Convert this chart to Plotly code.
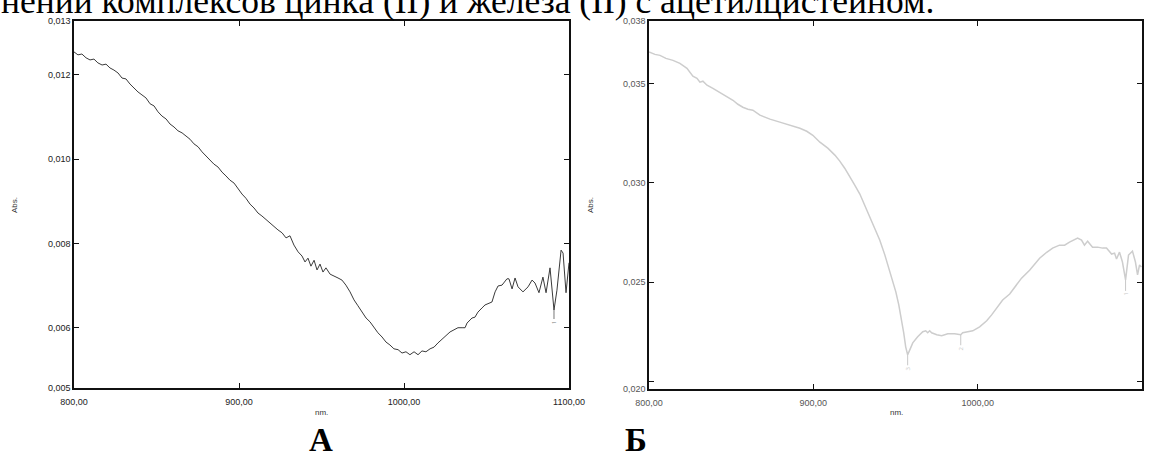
import plotly.graph_objects as go

# ---------------- data ----------------
wl_a = [800, 802.4, 804.8, 807.3, 809.7, 812.1, 814.5, 817, 819.4, 821.8, 824.2, 826.7, 829.1, 831.5,
        833.9, 836.4, 838.8, 841.2, 843.6, 846.1, 848.5, 850.9, 853.3, 855.8, 858.2, 860.6, 863, 865.5,
        867.9, 870.3, 872.7, 875.2, 877.6, 880, 882.4, 884.8, 887.3, 889.7, 892.1, 894.5, 897, 899.4,
        901.8, 904.2, 906.7, 909.1, 911.5, 913.9, 916.4, 918.8, 921.2, 923.6, 926.1, 928.5, 930.9, 933.3,
        935.8, 938.2, 940, 941.8, 943.6, 945.5, 947.3, 949.1, 950.9, 952.7, 955.2, 957.6, 960, 962.4,
        964.8, 967.3, 969.7, 972.1, 974.5, 977, 979.4, 981.8, 984.2, 986.7, 989.1, 991.5, 993.9, 996.4,
        998.8, 1001.2, 1003.6, 1006.1, 1008.5, 1010.9, 1013.3, 1015.8, 1018.2, 1020.6, 1023, 1025.5,
        1027.9, 1030.3, 1032.7, 1035.2, 1037, 1038.2, 1041.2, 1043, 1044.8, 1047.3, 1049.1, 1053.3,
        1055.2, 1057, 1059.4, 1062.4, 1063.6, 1065.5, 1067.3, 1069.1, 1072.1, 1075.2, 1077.6, 1079.4,
        1081.8, 1084.2, 1086.1, 1088.5, 1090.9, 1092.7, 1095.2, 1096.4, 1098.2, 1100]
abs_a = [0.01254, 0.01247, 0.01249, 0.01240, 0.01235, 0.01237, 0.01228, 0.01223, 0.01225, 0.01216,
         0.01211, 0.01204, 0.01192, 0.01190, 0.01178, 0.01168, 0.01159, 0.01152, 0.01145, 0.01131,
         0.01126, 0.01112, 0.01102, 0.01095, 0.01083, 0.01076, 0.01067, 0.01062, 0.01055, 0.01047,
         0.01036, 0.01029, 0.01017, 0.01007, 0.00998, 0.00988, 0.00981, 0.00969, 0.00960, 0.00950,
         0.00943, 0.00929, 0.00917, 0.00907, 0.00893, 0.00884, 0.00872, 0.00865, 0.00856, 0.00848,
         0.00841, 0.00832, 0.00825, 0.00813, 0.00818, 0.00796, 0.00780, 0.00770, 0.00756, 0.00765,
         0.00746, 0.00760, 0.00737, 0.00751, 0.00732, 0.00742, 0.00727, 0.00723, 0.00718, 0.00713,
         0.00701, 0.00685, 0.00666, 0.00652, 0.00637, 0.00623, 0.00614, 0.00600, 0.00588, 0.00578,
         0.00566, 0.00559, 0.00550, 0.00548, 0.00540, 0.00543, 0.00536, 0.00543, 0.00536, 0.00545,
         0.00543, 0.00550, 0.00554, 0.00564, 0.00573, 0.00580, 0.00590, 0.00595, 0.00600, 0.00600,
         0.00600, 0.00611, 0.00623, 0.00625, 0.00637, 0.00647, 0.00654, 0.00661, 0.00685, 0.00699,
         0.00701, 0.00716, 0.00716, 0.00692, 0.00718, 0.00697, 0.00685, 0.00697, 0.00713, 0.00706,
         0.00683, 0.00720, 0.00683, 0.00742, 0.00642, 0.00689, 0.00784, 0.00777, 0.00683, 0.00754]

wl_b = [800, 803.6, 806.7, 810.3, 814.6, 818.8, 823.1, 824.9, 826.7, 829.2, 831, 832.8, 835.3, 838.9,
        843.2, 847.4, 851.1, 854.1, 857.1, 860.2, 863.2, 867.5, 873.6, 879.6, 885.7, 891.8, 896, 899.7,
        904, 908.8, 913.1, 916.1, 919.1, 922.2, 925.2, 928.3, 931.3, 934.3, 937.4, 940.4, 943.5, 945.9,
        948.3, 950.2, 952, 953.8, 955, 956.2, 957.4, 958.7, 960.5, 963.5, 966.6, 968.4, 969.6, 970.8,
        972, 975.1, 978.1, 981.8, 986, 989.7, 990.9, 994, 997, 1001.2, 1005.5, 1008.5, 1011.6, 1015.2,
        1019.5, 1023.1, 1026.7, 1031.6, 1035.3, 1037.7, 1042, 1045.6, 1049.8, 1052.9, 1055.9, 1059,
        1060.8, 1063.2, 1065, 1066.9, 1069.9, 1073, 1076, 1078.4, 1081.5, 1083.3, 1084.5, 1086.3,
        1088.1, 1090, 1091.8, 1094.2, 1096, 1097.3, 1098.5, 1099.7]
abs_b = [0.03659, 0.03647, 0.03642, 0.03627, 0.03617, 0.03602, 0.03577, 0.03557, 0.03537, 0.03527,
         0.03507, 0.03512, 0.03492, 0.03476, 0.03456, 0.03436, 0.03416, 0.03396, 0.03381, 0.03371,
         0.03366, 0.03341, 0.03321, 0.03306, 0.03290, 0.03275, 0.03260, 0.03240, 0.03205, 0.03175,
         0.03140, 0.03110, 0.03074, 0.03034, 0.02989, 0.02944, 0.02888, 0.02833, 0.02773, 0.02713,
         0.02638, 0.02572, 0.02512, 0.02452, 0.02386, 0.02311, 0.02245, 0.02175, 0.02135, 0.02160,
         0.02195, 0.02226, 0.02251, 0.02256, 0.02246, 0.02256, 0.02246, 0.02236, 0.02231, 0.02241,
         0.02241, 0.02236, 0.02246, 0.02251, 0.02256, 0.02276, 0.02306, 0.02336, 0.02371, 0.02411,
         0.02441, 0.02481, 0.02521, 0.02561, 0.02601, 0.02621, 0.02651, 0.02672, 0.02687, 0.02687,
         0.02702, 0.02717, 0.02722, 0.02712, 0.02687, 0.02707, 0.02677, 0.02677, 0.02672, 0.02672,
         0.02642, 0.02647, 0.02617, 0.02652, 0.02602, 0.02512, 0.02637, 0.02657, 0.02602, 0.02537,
         0.02587, 0.02577]

# peak-pick markers
peaks_a_wl = [1090.9]
peaks_a_abs = [0.00642]
peaks_a_lbl = ["1"]
peaks_b_wl = [957.4, 989.7, 1090]
peaks_b_abs = [0.02135, 0.02236, 0.02512]
peaks_b_lbl = ["3", "2", "1"]

x_ticks = [800, 900, 1000, 1100]
x_text = ["800,00", "900,00", "1000,00", "1100,00"]
ya_range = [0.004571, 0.013273]
ya_ticks = [0.004571, 0.006, 0.008, 0.010, 0.012, 0.013273]
ya_text = ["0,005", "0,006", "0,008", "0,010", "0,012", "0,013"]
yb_range = [0.01963, 0.03815]
yb_ticks = [0.01963, 0.020, 0.025, 0.030, 0.035, 0.03815]
yb_text = ["0,020", "", "0,025", "0,030", "0,035", "0,038"]

title_text = "нений комплексов цинка (II) и железа (II) с ацетилцистеином."

# ---------------- figure ----------------
W, H = 1152, 453
fig = go.Figure()
fig.add_trace(go.Scatter(x=wl_a, y=abs_a, mode="lines", line=dict(color="#3a3a3a", width=1),
                         xaxis="x", yaxis="y", showlegend=False, hoverinfo="skip"))
fig.add_trace(go.Scatter(x=wl_b, y=abs_b, mode="lines", line=dict(color="#cdcdcd", width=1.5),
                         xaxis="x2", yaxis="y2", showlegend=False, hoverinfo="skip"))

def px_x(p):
    return p / W

def px_y(p):
    return 1 - p / H

tickfont = dict(family="Liberation Sans, Arial, sans-serif", size=9, color="#222")
tickfont_b = dict(family="Liberation Sans, Arial, sans-serif", size=9, color="#555")

axis_common = dict(showgrid=False, zeroline=False, ticks="inside", ticklen=5, tickwidth=1,
                   showline=True, mirror="allticks", linewidth=1.5, linecolor="#111",
                   tickcolor="#111", tickmode="array", automargin=False)

fig.update_layout(
    width=W, height=H,
    margin=dict(l=0, r=0, t=0, b=0, autoexpand=False),
    paper_bgcolor="white", plot_bgcolor="white",
    xaxis=dict(domain=[px_x(74), px_x(569)], range=[800, 1100], tickvals=x_ticks, ticktext=x_text,
               tickfont=tickfont, anchor="y", ticklabelstandoff=4, **axis_common),
    yaxis=dict(domain=[px_y(388), px_y(21)], range=ya_range, tickvals=ya_ticks, ticktext=ya_text,
               tickfont=tickfont, anchor="x", **axis_common),
    xaxis2=dict(domain=[px_x(649), px_x(1142)], range=[800, 1100], tickvals=x_ticks, ticktext=x_text,
                tickfont=tickfont_b, anchor="y2", ticklabelstandoff=4, **axis_common),
    yaxis2=dict(domain=[px_y(389), px_y(21)], range=yb_range, tickvals=yb_ticks, ticktext=yb_text,
                tickfont=tickfont_b, anchor="x2", **axis_common),
)

ann = []
# cropped title line at the top
ann.append(dict(text=title_text, xref="paper", yref="paper", x=px_x(-1), y=px_y(1),
                xanchor="left", yanchor="middle", showarrow=False,
                font=dict(family="Liberation Serif, Times New Roman, serif", size=35.5, color="#000")))
# axis titles
small = dict(family="Liberation Sans, Arial, sans-serif", size=8, color="#333")
ann.append(dict(text="Abs.", xref="paper", yref="paper", x=px_x(14), y=px_y(205), textangle=-90,
                xanchor="center", yanchor="middle", showarrow=False, font=small))
ann.append(dict(text="Abs.", xref="paper", yref="paper", x=px_x(590), y=px_y(205), textangle=-90,
                xanchor="center", yanchor="middle", showarrow=False, font=small))
ann.append(dict(text="nm.", xref="paper", yref="paper", x=px_x(321), y=px_y(412),
                xanchor="center", yanchor="middle", showarrow=False, font=small))
ann.append(dict(text="nm.", xref="paper", yref="paper", x=px_x(896), y=px_y(412),
                xanchor="center", yanchor="middle", showarrow=False, font=small))
# panel letters
big = dict(family="Liberation Serif, Times New Roman, serif", size=33, color="#000")
ann.append(dict(text="<b>А</b>", xref="paper", yref="paper", x=px_x(321), y=px_y(440),
                xanchor="center", yanchor="middle", showarrow=False, font=big))
ann.append(dict(text="<b>Б</b>", xref="paper", yref="paper", x=px_x(636), y=px_y(440),
                xanchor="center", yanchor="middle", showarrow=False, font=big))
# peak markers
for wl, ab, lb in zip(peaks_a_wl, peaks_a_abs, peaks_a_lbl):
    ann.append(dict(x=wl, y=ab, xref="x", yref="y", text=lb, textangle=-90, showarrow=True,
                    arrowhead=0, arrowwidth=1, arrowcolor="#777", ax=0, ay=12,
                    font=dict(size=5, color="#777")))
for wl, ab, lb in zip(peaks_b_wl, peaks_b_abs, peaks_b_lbl):
    ann.append(dict(x=wl, y=ab, xref="x2", yref="y2", text=lb, textangle=-90, showarrow=True,
                    arrowhead=0, arrowwidth=1, arrowcolor="#c8c8c8", ax=0, ay=14,
                    font=dict(size=6, color="#c8c8c8")))
fig.update_layout(annotations=ann)

fig.write_html("out.html", config={"displayModeBar": False},
               post_script="document.body.style.margin='0';")
